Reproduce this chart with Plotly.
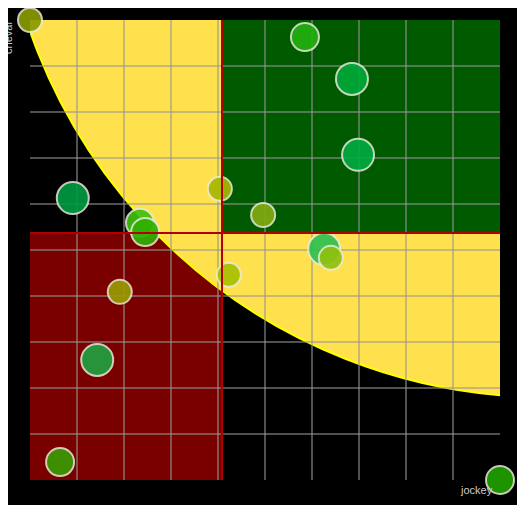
import plotly.graph_objects as go

# point data (jockey, cheval), colour, diameter
jockey = [0, 5.85, 6.85, 6.98, 0.91, 4.04, 4.96, 2.34, 2.45, 6.26, 6.40, 4.23, 1.91, 1.43, 0.64, 10]
cheval = [10, 9.63, 8.72, 7.07, 6.13, 6.33, 5.76, 5.59, 5.39, 5.02, 4.83, 4.46, 4.09, 2.61, 0.39, 0]
colors = ['#8a9a00', '#22b010', '#00a838', '#00aa40', '#009a40', '#a8b800', '#80aa10', '#40c010',
          '#30b000', '#30c050', '#90c010', '#a8c000', '#9a9a00', '#20a040', '#3a9a00', '#20a000']
sizes = [24, 28, 32, 32, 32, 24, 24, 28, 28, 32, 24, 24, 24, 32, 28, 28]

split_x = 4.085
split_y = 5.37

fig = go.Figure()
fig.add_trace(go.Scatter(
    x=jockey, y=cheval, mode='markers', cliponaxis=False,
    marker=dict(color=colors, size=sizes, opacity=0.92,
                line=dict(color='rgba(235,235,220,0.9)', width=2)),
    hoverinfo='x+y'))

shapes = [
    dict(type='rect', x0=0, x1=split_x, y0=0, y1=split_y, fillcolor='#7a0000',
         line=dict(width=0), layer='below'),
    dict(type='circle', x0=11.0 - 11.66, x1=11.0 + 11.66, y0=13.7 - 11.9, y1=13.7 + 11.9,
         fillcolor='#ffe14d', line=dict(color='#ffff00', width=2), layer='below'),
    dict(type='rect', x0=split_x, x1=10, y0=split_y, y1=10, fillcolor='#005a00',
         line=dict(width=0), layer='below'),
    dict(type='line', x0=split_x, x1=split_x, y0=0, y1=10, line=dict(color='#b00000', width=2)),
    dict(type='line', x0=0, x1=10, y0=split_y, y1=split_y, line=dict(color='#b00000', width=2)),
]

ax = dict(range=[0, 10], dtick=1, showgrid=True, gridcolor='rgba(150,150,150,0.55)', gridwidth=1.5,
          zeroline=False, showticklabels=False, showline=False)

fig.update_layout(
    width=525, height=505, paper_bgcolor='black', plot_bgcolor='black',
    margin=dict(l=22, r=33, t=12, b=33), showlegend=False,
    xaxis=ax, yaxis=ax, shapes=shapes,
    annotations=[
        dict(text='cheval', xref='paper', yref='paper', x=-0.03, y=1, textangle=-90,
             showarrow=False, xanchor='right', yanchor='top',
             font=dict(color='#cccccc', size=11, family='Liberation Sans')),
        dict(text='jockey', xref='paper', yref='paper', x=0.99, y=-0.005, showarrow=False,
             xanchor='right', yanchor='top',
             font=dict(color='#cccccc', size=11, family='Liberation Sans')),
    ])

fig.write_html("out.html")
